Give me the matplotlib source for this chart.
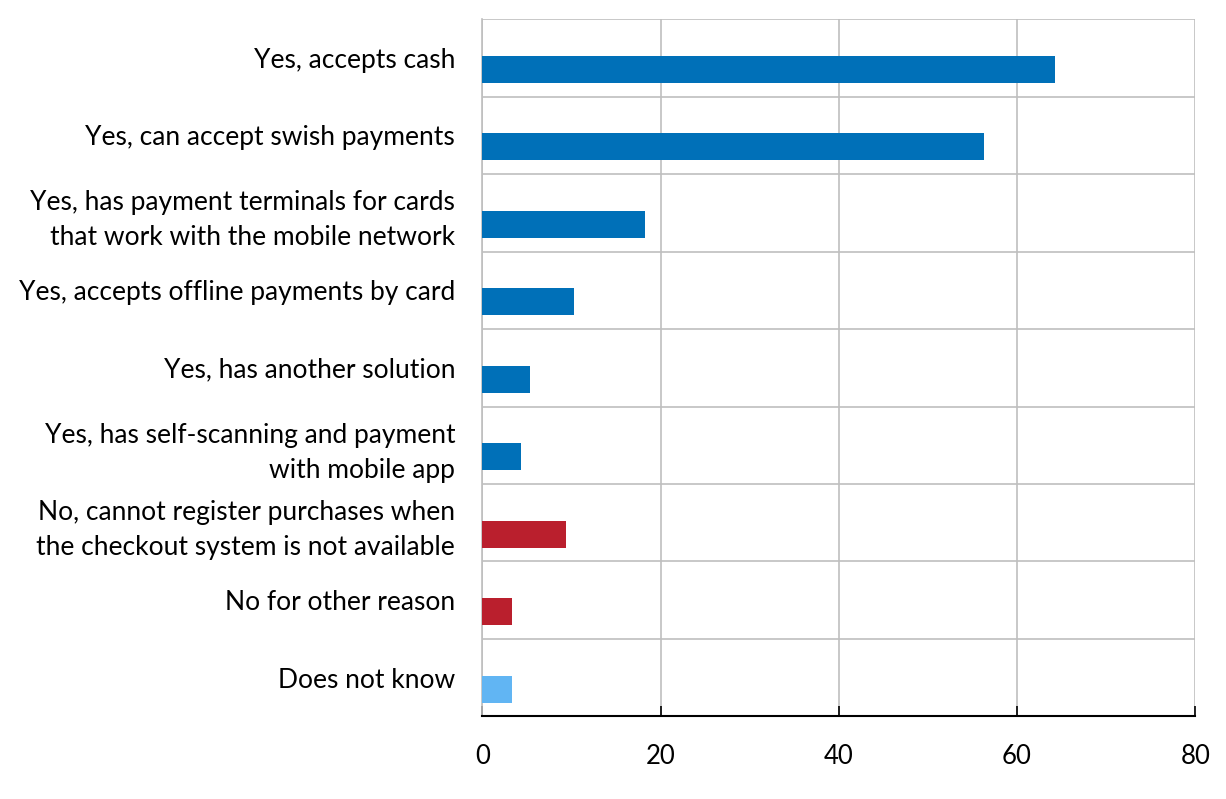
import matplotlib
matplotlib.use("Agg")
import matplotlib.pyplot as plt
import numpy as np

categories = [
    "Yes, accepts cash",
    "Yes, can accept swish payments",
    "Yes, has payment terminals for cards\nthat work with the mobile network",
    "Yes, accepts offline payments by card",
    "Yes, has another solution",
    "Yes, has self-scanning and payment\nwith mobile app",
    "No, cannot register purchases when\nthe checkout system is not available",
    "No for other reason",
    "Does not know",
]
values = [64.3, 56.3, 18.3, 10.3, 5.3, 4.3, 9.4, 3.3, 3.3]
colors = ["#0070B8"] * 6 + ["#BA1F2D"] * 2 + ["#61B5F3"]
xticks = [0, 20, 40, 60, 80]

plt.rcParams['font.family'] = ['Lato', 'DejaVu Sans']

fig = plt.figure(figsize=(12.26, 7.99), dpi=100)
ax = fig.add_axes([482.3 / 1226, 1 - 716.3 / 799, (1195.3 - 482.3) / 1226, (716.3 - 19.3) / 799])

pos = np.arange(len(categories))
ax.barh(pos + 0.148, values, height=0.349, color=colors, zorder=3)

ax.set_xlim(0, 80)
ax.set_ylim(len(categories) - 0.5, -0.5)
ax.set_xticks(xticks)
ax.set_xticklabels([str(t) for t in xticks], fontsize=18.5)
ax.set_yticks(pos)
ax.set_yticklabels(categories, fontsize=19, linespacing=1.5)
ax.set_yticks(np.arange(-0.5, len(categories) + 0.5, 1), minor=True)

ax.tick_params(axis='y', which='both', length=0, pad=19.5)
ax.tick_params(axis='x', which='major', direction='in', length=7, width=1.2, color='black', pad=20)

ax.grid(axis='x', which='major', color='#BFBFBF', linewidth=1.2, zorder=0)
ax.grid(axis='y', which='minor', color='#BFBFBF', linewidth=1.2, zorder=0)

for s in ['top', 'right']:
    ax.spines[s].set_visible(False)
ax.spines['left'].set_color('#BFBFBF')
ax.spines['left'].set_linewidth(1.2)
ax.spines['bottom'].set_color('black')
ax.spines['bottom'].set_linewidth(1.5)
ax.spines['bottom'].set_zorder(4)

fig.savefig("out.png", dpi=100)
